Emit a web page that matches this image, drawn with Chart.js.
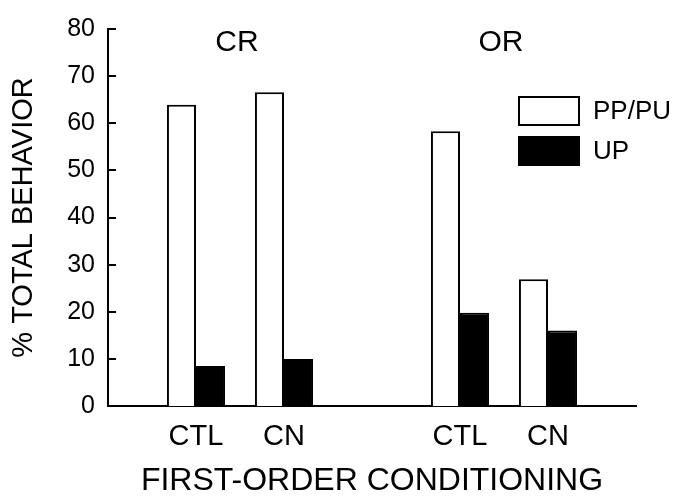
<!DOCTYPE html>
<html>
<head>
<meta charset="utf-8">
<script src="https://cdn.jsdelivr.net/npm/chart.js@4"></script>
<style>
  html, body { margin: 0; padding: 0; background: #fff; }
  #wrap { width: 677px; height: 500px; }
</style>
</head>
<body>
<div id="wrap"><canvas id="c" width="677" height="500"></canvas></div>
<script>
// ---- data ----
const categories = ['', 'CTL', 'CN', '', 'CTL', 'CN', ''];
const groupLabels = ['CR', 'OR'];
const groupCategoryPairs = [[1, 2], [4, 5]];
const seriesNames = ['PP/PU', 'UP'];
const ppPuValues = [null, 63.9, 66.6, null, 58.3, 26.9, null];
const upValues = [null, 8.5, 10.0, null, 19.8, 16.0, null];
const yTicks = [0, 10, 20, 30, 40, 50, 60, 70, 80];
const yTitle = '% TOTAL BEHAVIOR';
const xTitle = 'FIRST-ORDER CONDITIONING';

const FONT = "'Liberation Sans', Arial, Helvetica, sans-serif";

const extrasPlugin = {
  id: 'extras',
  afterDraw(chart) {
    const ctx = chart.ctx;
    const x = chart.scales.x, y = chart.scales.y;
    ctx.save();
    // inward tick marks on y axis
    ctx.strokeStyle = '#000';
    ctx.lineWidth = 2;
    yTicks.forEach(v => {
      const py = Math.round(y.getPixelForValue(v));
      ctx.beginPath();
      ctx.moveTo(chart.chartArea.left, py);
      ctx.lineTo(chart.chartArea.left + 8, py);
      ctx.stroke();
    });
    // group labels
    ctx.fillStyle = '#000';
    ctx.font = '30px ' + FONT;
    ctx.textAlign = 'center';
    ctx.textBaseline = 'middle';
    groupLabels.forEach((g, i) => {
      const [a, b] = groupCategoryPairs[i];
      const cx = (x.getPixelForValue(a) + x.getPixelForValue(b)) / 2 - 3;
      ctx.fillText(g, cx, 43);
    });
    // legend
    const lx = 519, boxW = 60, boxH = 28;
    const rows = [{y: 97, fill: '#fff'}, {y: 137, fill: '#000'}];
    ctx.font = '26px ' + FONT;
    ctx.textAlign = 'left';
    rows.forEach((r, i) => {
      ctx.fillStyle = r.fill;
      ctx.fillRect(lx, r.y, boxW, boxH);
      ctx.lineWidth = 2;
      ctx.strokeStyle = '#000';
      ctx.strokeRect(lx, r.y, boxW, boxH);
      ctx.fillStyle = '#000';
      ctx.fillText(seriesNames[i], 593, r.y + boxH / 2 + 1);
    });
    ctx.restore();
  }
};

new Chart(document.getElementById('c'), {
  type: 'bar',
  data: {
    labels: categories,
    datasets: [
      { label: seriesNames[0], data: ppPuValues, backgroundColor: '#fff', borderColor: '#000', borderWidth: 2 },
      { label: seriesNames[1], data: upValues, backgroundColor: '#000', borderColor: '#000', borderWidth: 2 }
    ]
  },
  options: {
    responsive: false,
    animation: false,
    events: [],
    layout: { padding: { left: 0, top: 29, right: 41, bottom: 0 } },
    datasets: { bar: { categoryPercentage: 0.66, barPercentage: 1.0 } },
    plugins: { legend: { display: false }, tooltip: { enabled: false } },
    scales: {
      x: {
        offset: false,
        grid: { display: false, drawTicks: false, tickLength: 0 },
        border: { display: true, color: '#000', width: 2 },
        ticks: { color: '#000', font: { family: FONT, size: 29 }, padding: 14, maxRotation: 0, autoSkip: false },
        title: { display: true, text: xTitle, color: '#000', font: { family: FONT, size: 32 }, padding: { top: 6, bottom: 0 } },
        afterFit(s) { s.height = 94; }
      },
      y: {
        min: 0, max: 80,
        grid: { display: false, drawTicks: false, tickLength: 0 },
        border: { display: true, color: '#000', width: 2 },
        ticks: { stepSize: 10, color: '#000', font: { family: FONT, size: 25 }, padding: 13 },
        title: { display: true, text: yTitle, color: '#000', font: { family: FONT, size: 29 }, padding: { top: 7, bottom: 0 } },
        afterFit(s) { s.width = 108; }
      }
    }
  },
  plugins: [extrasPlugin]
});
</script>
</body>
</html>
